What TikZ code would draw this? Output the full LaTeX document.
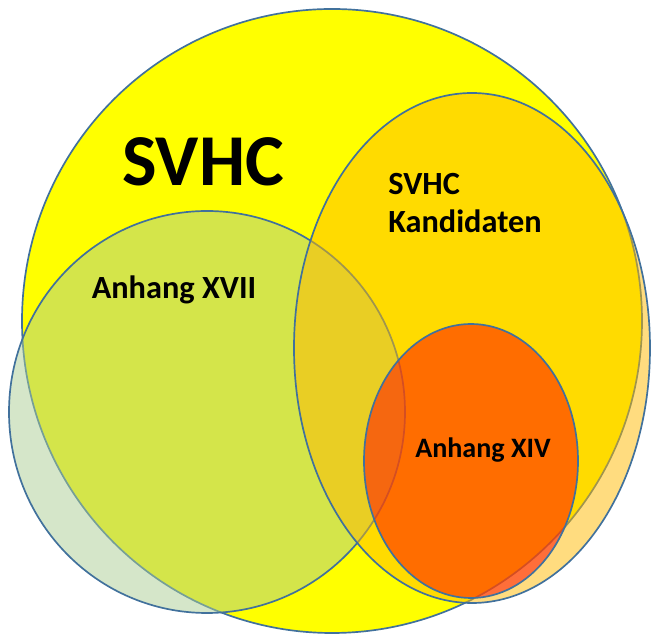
\documentclass[tikz,border=0pt]{standalone}
\usepackage{fontspec}
\setmainfont{Carlito}
\usepackage{tikz}
\definecolor{rand}{HTML}{41719C}
\definecolor{gelb}{HTML}{FFFF00}
\definecolor{gruen}{RGB}{171,205,148}
\definecolor{gold}{RGB}{255,185,0}
\definecolor{rot}{RGB}{255,20,0}
\tikzstyle{menge}=[draw=rand, line width=1.2pt]
\tikzstyle{etikett}=[font=\bfseries, inner sep=0pt]

\begin{document}
\begin{tikzpicture}
            \useasboundingbox (0,0) rectangle (16.3,15.875);
            % Conjuntos
            \draw[menge, fill=gelb] (8.3,7.85) ellipse [x radius=7.75cm, y radius=7.8cm];
            \draw[menge, fill=gruen, fill opacity=0.5] (5.175,5.575) ellipse [x radius=4.95cm, y radius=5.025cm];
            \draw[menge, fill=gold, fill opacity=0.5] (11.8,7.175) ellipse [x radius=4.45cm, y radius=6.375cm];
            \draw[menge, fill=rot, fill opacity=0.55] (11.775,4.35) ellipse [x radius=2.675cm, y radius=3.425cm];
            % Etiquetas
            \node[etikett, font=\bfseries\fontsize{52}{60}\selectfont] (svhc) at (5.075,11.825) {SVHC};
            \node[etikett, font=\bfseries\fontsize{23}{28}\selectfont] (xvii) at (4.35,8.625) {Anhang XVII};
            \node[etikett, font=\bfseries\fontsize{23}{27.7}\selectfont, align=left, anchor=west] (kand) at (9.7,10.8) {SVHC\\Kandidaten};
            \node[etikett, font=\bfseries\fontsize{20}{24}\selectfont] (xiv) at (12.075,4.625) {Anhang XIV};
        \end{tikzpicture}
\end{document}
